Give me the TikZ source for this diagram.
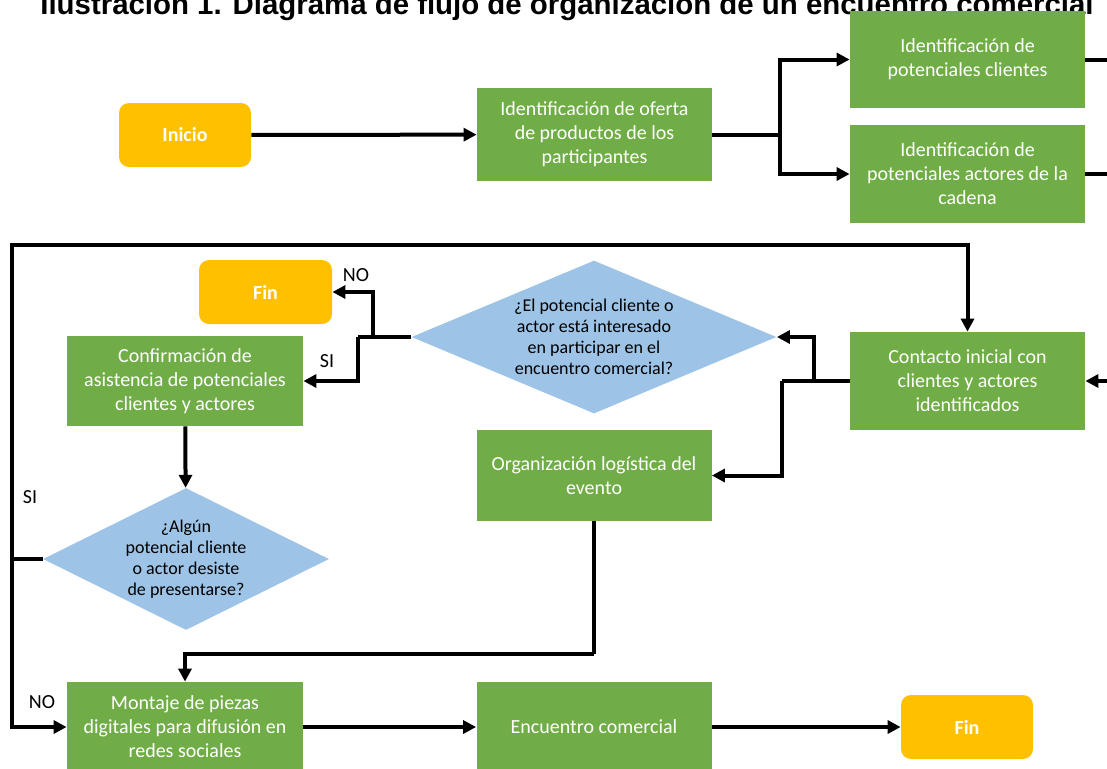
\documentclass[tikz,border=0pt]{standalone}
\usepackage{fontspec}
\setmainfont{Carlito}
\newfontfamily\titlefont{Liberation Sans}
\usetikzlibrary{shapes.geometric, arrows.meta}
\definecolor{verde}{HTML}{70AD47}
\definecolor{naranja}{HTML}{FFC000}
\definecolor{azul}{HTML}{9DC3E6}

\begin{document}
\begin{tikzpicture}[x=0.5pt, y=-0.5pt,
    proceso/.style={fill=verde, text=white, align=center, inner sep=0pt,
        minimum width=117.5pt, font=\fontsize{10}{12}\selectfont},
    terminal/.style={fill=naranja, text=white, rounded corners=5pt,
        minimum width=66pt, minimum height=32pt, font=\bfseries\fontsize{10}{12}\selectfont},
    decision/.style={diamond, fill=azul, align=center, inner sep=0pt,
        font=\fontsize{9}{10.5}\selectfont},
    linea/.style={line width=2pt},
    flecha/.style={line width=2pt, -{Triangle[length=6.5pt,width=6.5pt]}},
    etiqueta/.style={font=\fontsize{10}{12}\selectfont}]
    \useasboundingbox (0,0) rectangle (1107,768);
    \clip (0,0) rectangle (1107,768);

    % titulo
    \node[anchor=base, font=\titlefont\bfseries\fontsize{14.7}{16}\selectfont] (titulo) at (567,14)
        {Ilustración 1. Diagrama de flujo de organización de un encuentro comercial};

    % inicio y oferta
    \node[terminal] (inicio) at (185,135) {Inicio};
    \node[proceso, minimum height=46.5pt] (oferta) at (594.5,134.5)
        {Identificación de oferta\\de productos de los\\participantes};
    % identificacion de clientes y actores
    \node[proceso, minimum height=48.5pt] (clientes) at (967.5,59.5)
        {Identificación de\\potenciales clientes};
    \node[proceso, minimum height=49pt] (actores) at (967.5,174)
        {Identificación de\\potenciales actores de la\\cadena};
    % contacto inicial
    \node[proceso, minimum height=49pt] (contacto) at (967.5,381)
        {Contacto inicial con\\clientes y actores\\identificados};
    % primera decision
    \node[decision, shape aspect=2.4, minimum width=182.5pt, minimum height=76.5pt] (interes) at (594,337)
        {¿El potencial cliente o\\actor está interesado\\en participar en el\\encuentro comercial?};
    \node[terminal, minimum width=66.5pt] (fin1) at (265.5,292) {Fin};
    \node[proceso, minimum width=118pt, minimum height=45pt] (confirma) at (185,381)
        {Confirmación de\\asistencia de potenciales\\clientes y actores};
    % segunda decision
    \node[decision, shape aspect=2, minimum width=143pt, minimum height=71pt] (desiste) at (186,559)
        {¿Algún\\potencial cliente\\o actor desiste\\de presentarse?};
    % logistica, montaje y encuentro
    \node[proceso, minimum height=45.5pt] (logistica) at (594,475.5)
        {Organización logística del\\evento};
    \node[proceso, minimum width=118pt, minimum height=45pt] (montaje) at (185,727)
        {Montaje de piezas\\digitales para difusión en\\redes sociales};
    \node[proceso, minimum height=45pt] (encuentro) at (594,727) {Encuentro comercial};
    \node[terminal] (fin2) at (967,727) {Fin};

    % flechas de la parte superior
    \draw[flecha] (inicio) -- (oferta);
    \coordinate (rama) at (780,134.5);
    \draw[linea] (oferta) -- (rama);
    \draw[flecha] (rama) |- (clientes);
    \draw[flecha] (rama) |- (actores);
    \coordinate (der) at (1130,0);
    \draw[linea] (clientes.east) -- (clientes.east -| der);
    \draw[linea] (actores.east) -- (actores.east -| der);
    \draw[flecha] (contacto.east -| der) -- (contacto.east);

    % salidas del contacto
    \coordinate (c1) at (814,381);
    \coordinate (c2) at (782,381);
    \draw[linea] (contacto) -- (c2);
    \draw[flecha] (c1) |- (interes);
    \draw[flecha] (c2) |- (logistica);

    % salidas de la primera decision
    \coordinate (d1) at (373,337);
    \coordinate (d2) at (358,337);
    \draw[linea] (interes) -- (d2);
    \draw[flecha] (d1) |- (fin1);
    \draw[flecha] (d2) |- (confirma);
    \node[etiqueta] (no1) at (356,275) {NO};
    \node[etiqueta] (si1) at (327,361) {SI};

    % segunda decision y lazo
    \draw[flecha] (confirma) -- (desiste);
    \coordinate (izq) at (12,559);
    \coordinate (arriba) at (12,245);
    \draw[linea] (desiste) -- (izq);
    \draw[flecha] (izq) -- (arriba) -| (contacto);
    \draw[flecha] (izq) |- (montaje);
    \node[etiqueta] (si2) at (30,497) {SI};
    \node[etiqueta] (no2) at (42,702) {NO};

    % parte inferior
    \coordinate (baja) at (594,654);
    \draw[linea] (logistica) -- (baja);
    \draw[flecha] (baja) -| (montaje);
    \draw[flecha] (montaje) -- (encuentro);
    \draw[flecha] (encuentro) -- (fin2);
\end{tikzpicture}
\end{document}
